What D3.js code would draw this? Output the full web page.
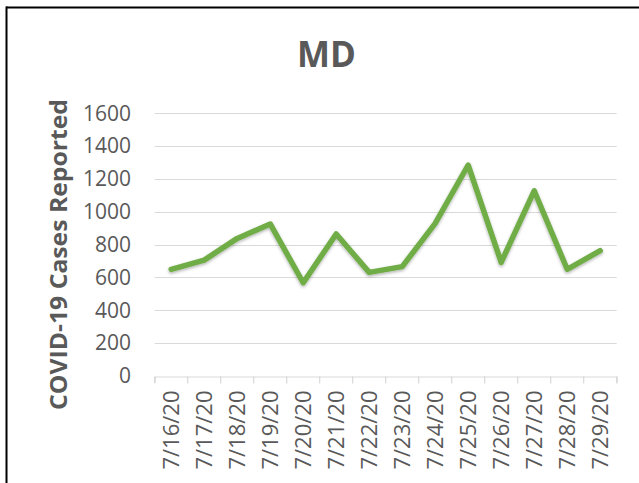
<!DOCTYPE html>
<html><head><meta charset="utf-8">
<script src="https://cdn.jsdelivr.net/npm/d3@7"></script>
<style>html,body{margin:0;padding:0;background:#fff;overflow:hidden}</style>
</head><body>
<svg id="c" width="639" height="483"></svg>
<script>
const dates = ["7/16/20","7/17/20","7/18/20","7/19/20","7/20/20","7/21/20","7/22/20","7/23/20","7/24/20","7/25/20","7/26/20","7/27/20","7/28/20","7/29/20"];
const cases = [650, 706, 838, 926, 568, 865, 631, 666, 930, 1285, 692, 1128, 650, 763];
const yTicks = [0, 200, 400, 600, 800, 1000, 1200, 1400, 1600];
const title = "MD";
const yTitle = "COVID-19 Cases Reported";

const svg = d3.select("#c");
const font = "'Open Sans', sans-serif";
const grey = "#595959";
const pLeft = 154.7, pRight = 616.7, pTop = 113.3, pBottom = 376;

// frame
svg.append("line").attr("x1",6).attr("x2",639).attr("y1",7.5).attr("y2",7.5).attr("stroke","#000").attr("stroke-width",2);
svg.append("line").attr("x1",6.5).attr("x2",6.5).attr("y1",6.5).attr("y2",483).attr("stroke","#000").attr("stroke-width",2);

const x = d3.scaleBand().domain(dates).range([pLeft, pRight]).padding(0);
const y = d3.scaleLinear().domain([0, 1600]).range([pBottom, pTop]);

// gridlines
svg.append("g").selectAll("line").data(yTicks.filter(d=>d>0)).join("line")
  .attr("x1", pLeft).attr("x2", pRight)
  .attr("y1", d=>Math.round(y(d))+0.5).attr("y2", d=>Math.round(y(d))+0.5)
  .attr("stroke","#d9d9d9").attr("stroke-width",1);

// y axis labels
const yAxis = d3.axisLeft(y).tickValues(yTicks).tickFormat(d3.format("d")).tickSize(0).tickPadding(0);
const gy = svg.append("g").attr("transform", `translate(131,0)`).call(yAxis)
  .attr("font-size", 21).attr("font-family", font);
gy.select(".domain").remove();
gy.selectAll("text").attr("fill", grey).attr("font-size", 21).style("font-size","21px").style("font-family", font);

// x axis
const xAxis = d3.axisBottom(x).tickSize(6).tickSizeOuter(6);
const gx = svg.append("g").attr("transform", `translate(0,${Math.round(pBottom)+0.5})`).call(xAxis)
  .attr("font-size", 22).attr("font-family", font);
gx.select(".domain").attr("stroke","#d9d9d9").attr("stroke-width",1.2);
gx.selectAll(".tick line").remove();
// band-boundary ticks
gx.append("g").selectAll("line").data(d3.range(dates.length+1)).join("line")
  .attr("x1", i=> i<dates.length ? x(dates[i]) : x(dates[dates.length-1])+x.bandwidth())
  .attr("x2", i=> i<dates.length ? x(dates[i]) : x(dates[dates.length-1])+x.bandwidth())
  .attr("y1",0).attr("y2",7).attr("stroke","#d9d9d9").attr("stroke-width",1.2);
gx.selectAll(".tick text")
  .attr("fill", grey).attr("font-size", 22).style("font-size","22px").style("font-family", font)
  .attr("transform","rotate(-90)")
  .attr("text-anchor","end").attr("dy","0.35em").attr("x",-14).attr("y",0);

// shadow
const defs = svg.append("defs");
const f = defs.append("filter").attr("id","sh").attr("x","-10%").attr("y","-10%").attr("width","120%").attr("height","130%");
f.append("feDropShadow").attr("dx",0).attr("dy",1.5).attr("stdDeviation",1.5).attr("flood-color","#000").attr("flood-opacity",0.3);

const line = d3.line().x((d,i)=>x(dates[i])+x.bandwidth()/2).y(d=>y(d));
svg.append("path").datum(cases).attr("d", line)
  .attr("fill","none").attr("stroke","#70AD47").attr("stroke-width",5.5)
  .attr("stroke-linejoin","round").attr("stroke-linecap","round")
  .attr("filter","url(#sh)");

// title
svg.append("text").attr("x",326.4).attr("y",67).attr("text-anchor","middle")
  .attr("fill",grey).attr("font-family",font).attr("font-weight","bold").attr("font-size",35).text(title);

// y title
svg.append("text").attr("transform","translate(67,254.5) rotate(-90)").attr("text-anchor","middle")
  .attr("fill",grey).attr("font-family",font).attr("font-weight","bold").attr("font-size",23)
  .attr("textLength",311).attr("lengthAdjust","spacingAndGlyphs").text(yTitle);
</script>
</body></html>
